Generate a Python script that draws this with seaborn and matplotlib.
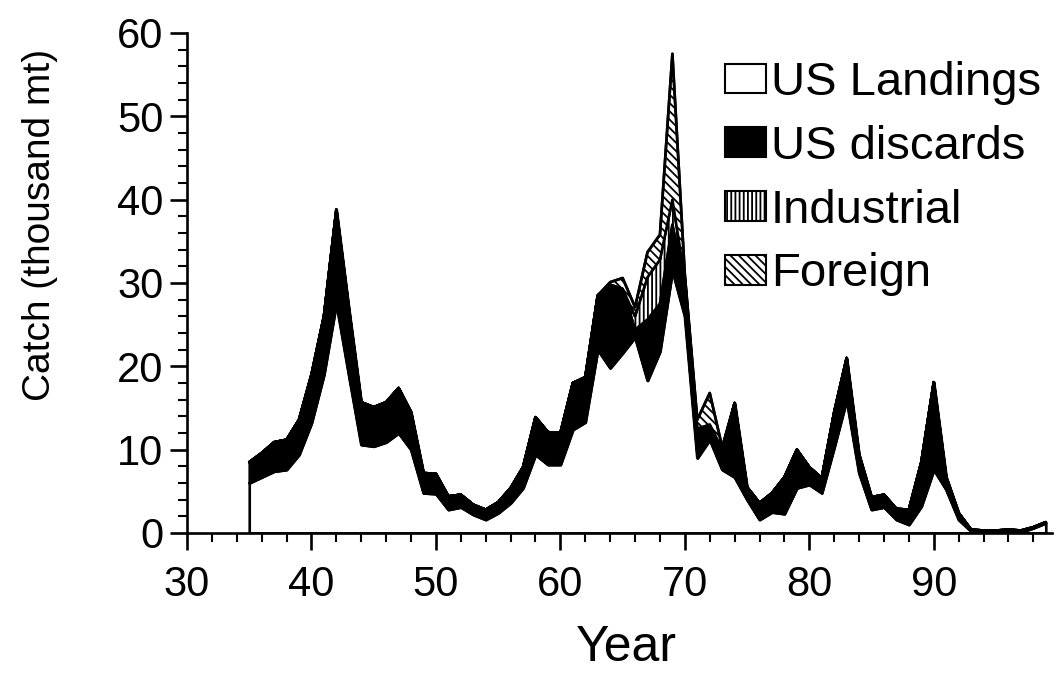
import numpy as np
import pandas as pd
import matplotlib
matplotlib.use("Agg")
import matplotlib.pyplot as plt
from matplotlib.patches import Patch
import seaborn as sns

years = list(range(1935, 2000))

us_landings = [6.0, 6.7, 7.4, 7.6, 9.4, 13.2, 19.0, 27.6, 19.0, 10.6,
               10.4, 10.9, 12.0, 10.0, 4.8, 4.7, 2.8, 3.1, 2.2, 1.6,
               2.4, 3.6, 5.4, 9.4, 8.2, 8.2, 12.4, 13.3, 22.0, 19.8,
               21.6, 23.5, 18.3, 21.8, 31.5, 26.0, 9.0, 11.2, 7.6, 6.7,
               4.0, 1.6, 2.5, 2.3, 5.4, 5.8, 4.8, 10.3, 16.0, 7.2,
               2.8, 3.1, 1.6, 1.0, 3.2, 7.6, 5.2, 1.6, 0.2, 0.1,
               0.1, 0.2, 0.1, 0.6, 1.2]

us_landings_plus_discards = [8.5, 9.6, 10.9, 11.2, 13.6, 19.0, 26.0, 38.8, 27.0, 15.7,
                             15.1, 15.7, 17.4, 14.5, 7.2, 7.1, 4.4, 4.6, 3.4, 2.8,
                             3.7, 5.4, 7.9, 13.9, 12.1, 12.0, 18.0, 18.7, 28.5, 29.8,
                             29.3, 24.4, 25.6, 27.5, 37.0, 30.0, 12.5, 13.0, 10.0, 15.6,
                             5.5, 3.6, 4.8, 6.7, 10.0, 7.9, 6.6, 14.5, 21.0, 9.4,
                             4.3, 4.6, 2.9, 2.8, 8.5, 18.1, 6.7, 2.4, 0.4, 0.3,
                             0.3, 0.4, 0.3, 0.7, 1.3]

us_discards = [round(t - l, 2) for t, l in zip(us_landings_plus_discards, us_landings)]

industrial = [0.0] * 65
for yr, v in {1966: 1.6, 1967: 5.1, 1968: 5.3, 1969: 3.0, 1970: 0.5}.items():
    industrial[yr - 1935] = v

foreign = [0.0] * 65
for yr, v in {1964: 0.3, 1965: 1.3, 1966: 1.1, 1967: 3.0, 1968: 3.0, 1969: 17.5,
              1970: 0.5, 1971: 1.1, 1972: 3.8, 1973: 0.3}.items():
    foreign[yr - 1935] = v

series_names = ["US Landings", "US discards", "Industrial", "Foreign"]
x_ticks = [30, 40, 50, 60, 70, 80, 90]
y_ticks = [0, 10, 20, 30, 40, 50, 60]

sns.set_theme(style="ticks")
plt.rcParams["font.family"] = ["Liberation Sans", "DejaVu Sans"]
plt.rcParams["hatch.linewidth"] = 1.3
plt.rcParams["hatch.color"] = "black"

df = pd.DataFrame({
    "x": np.array(years) - 1900,
    "L": us_landings,
    "D": us_discards,
    "I": industrial,
    "F": foreign,
})
df["c1"] = df["L"]
df["c2"] = df["c1"] + df["D"]
df["c3"] = df["c2"] + df["I"]
df["c4"] = df["c3"] + df["F"]

fig = plt.figure(figsize=(10.57, 6.76), dpi=100)
ax = fig.add_axes([187 / 1057, 1 - 533 / 676, (1052 - 187) / 1057, 500 / 676])

lw = 1.9
ax.fill_between(df["x"], 0, df["c1"], facecolor="white", edgecolor="black", linewidth=lw, zorder=2)
ax.fill_between(df["x"], df["c1"], df["c2"], facecolor="black", edgecolor="black", linewidth=lw, zorder=2)
ax.fill_between(df["x"], df["c2"], df["c3"], facecolor="white", edgecolor="black", hatch="||||", linewidth=lw, zorder=2)
ax.fill_between(df["x"], df["c3"], df["c4"], facecolor="white", edgecolor="black", hatch="\\\\\\\\", linewidth=lw, zorder=2)
for col in ["c1", "c2", "c4"]:
    sns.lineplot(data=df, x="x", y=col, ax=ax, color="black", linewidth=lw, zorder=3)

ax.set_xlim(30, 99.5)
ax.set_ylim(0, 60)
ax.set_xticks(x_ticks)
ax.set_yticks(y_ticks)
ax.set_xticks(np.arange(30, 100, 2), minor=True)
ax.set_yticks(np.arange(0, 61, 2), minor=True)
ax.tick_params(axis="both", which="major", length=12, width=1.9, labelsize=30, color="black", labelcolor="black")
ax.tick_params(axis="both", which="minor", length=6.5, width=1.5, color="black")
ax.tick_params(axis="y", which="major", pad=5)
ax.tick_params(axis="x", which="major", pad=11)
for s in ["top", "right"]:
    ax.spines[s].set_visible(False)
for s in ["left", "bottom"]:
    ax.spines[s].set_linewidth(1.9)
    ax.spines[s].set_color("black")

ax.set_xlabel("Year", fontsize=36, color="black")
ax.set_ylabel("Catch (thousand mt)", fontsize=28, color="black")
ax.xaxis.set_label_coords((626 - 187) / 865, (533 - 625) / 500)
ax.yaxis.set_label_coords((58 - 187) / 865, (533 - 225) / 500)

handles = [
    Patch(facecolor="white", edgecolor="black", linewidth=1.5),
    Patch(facecolor="black", edgecolor="black", linewidth=1.5),
    Patch(facecolor="white", edgecolor="black", hatch="||||", linewidth=1.5),
    Patch(facecolor="white", edgecolor="black", hatch="\\\\\\\\", linewidth=1.5),
]
leg = fig.legend(handles, series_names, loc="upper left",
                 bbox_to_anchor=(725 / 1057, 1 - 61 / 676), bbox_transform=fig.transFigure,
                 frameon=False, fontsize=34, handlelength=0.87, handleheight=0.58,
                 handletextpad=0.1, labelspacing=0.42, borderpad=0, borderaxespad=0)
for t in leg.get_texts():
    t.set_color("black")

fig.savefig("out.png", dpi=100, facecolor="white")
